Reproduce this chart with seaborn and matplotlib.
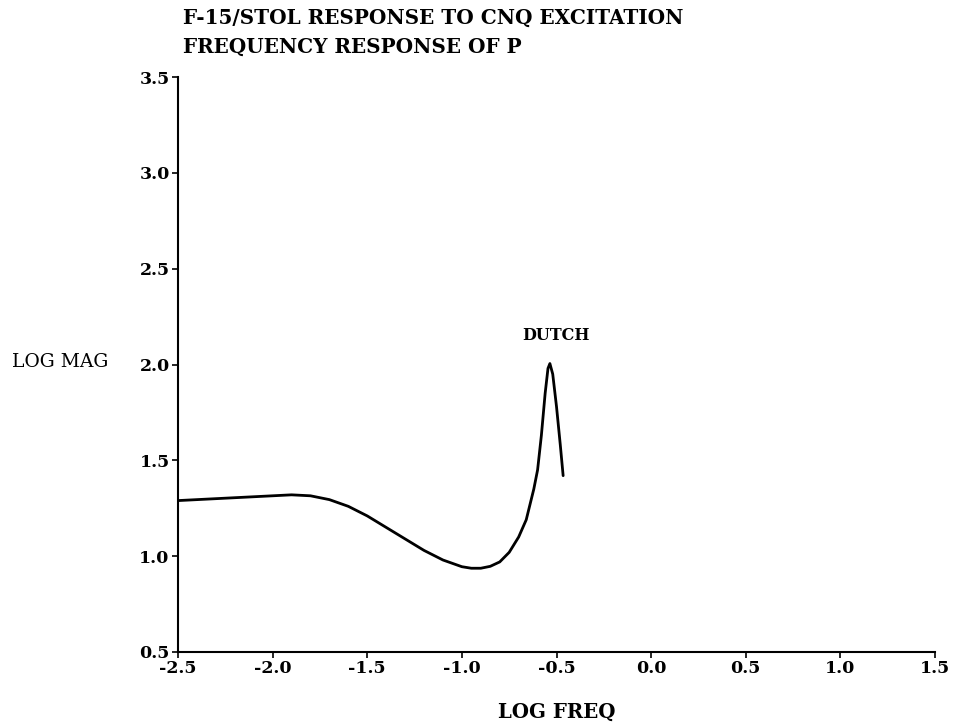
import matplotlib
matplotlib.use("Agg")
import matplotlib.pyplot as plt
import seaborn as sns
import pandas as pd

title_lines = ["F-15/STOL RESPONSE TO CNQ EXCITATION", "FREQUENCY RESPONSE OF P"]
x_label = "LOG FREQ"
y_label = "LOG MAG"
annotation = "DUTCH"

log_freq = [-2.5, -2.3, -2.1, -1.9, -1.8, -1.7, -1.6, -1.5, -1.4, -1.3, -1.2,
            -1.1, -1.0, -0.95, -0.9, -0.85, -0.8, -0.75, -0.7, -0.66, -0.62,
            -0.6, -0.58, -0.56, -0.545, -0.535, -0.52, -0.5, -0.48, -0.465]
log_mag = [1.29, 1.30, 1.31, 1.32, 1.315, 1.295, 1.26, 1.21, 1.15, 1.09, 1.03,
           0.98, 0.945, 0.937, 0.937, 0.947, 0.97, 1.02, 1.10, 1.19, 1.35,
           1.45, 1.63, 1.85, 1.98, 2.005, 1.95, 1.78, 1.58, 1.42]

x_ticks = [-2.5, -2.0, -1.5, -1.0, -0.5, 0.0, 0.5, 1.0, 1.5]
y_ticks = [0.5, 1.0, 1.5, 2.0, 2.5, 3.0, 3.5]

sns.set_style("ticks")
plt.rcParams['font.family'] = ['DejaVu Serif']
plt.rcParams['text.color'] = 'black'
plt.rcParams['xtick.color'] = 'black'
plt.rcParams['ytick.color'] = 'black'
plt.rcParams['axes.labelcolor'] = 'black'

df = pd.DataFrame({"x": log_freq, "y": log_mag})

fig = plt.figure(figsize=(9.61, 7.28), dpi=100)
ax = fig.add_axes([0.1852, 0.1044, 0.7878, 0.7898])
sns.lineplot(data=df, x="x", y="y", sort=False, color="black", linewidth=2.0, ax=ax)

ax.set_xlim(-2.5, 1.5)
ax.set_ylim(0.5, 3.5)
ax.set_xticks(x_ticks)
ax.set_yticks(y_ticks)
ax.set_xticklabels([f"{t:.1f}" for t in x_ticks], fontweight="bold", fontsize=12.5)
ax.set_yticklabels([f"{t:.1f}" for t in y_ticks], fontweight="bold", fontsize=12.5)
ax.tick_params(axis="both", direction="out", length=4, width=1.2, color="black", pad=2)
for s in ["top", "right"]:
    ax.spines[s].set_visible(False)
for s in ["left", "bottom"]:
    ax.spines[s].set_linewidth(1.5)
    ax.spines[s].set_color("black")

ax.set_xlabel(x_label, fontweight="bold", fontsize=14.2, labelpad=18)
ax.set_ylabel("")
fig.text(12 / 961, 1 - 362 / 728, y_label, fontsize=13.5, va="center", ha="left")

ax.text(-0.503, 2.15, annotation, fontweight="bold", fontsize=11.5, ha="center", va="center")

fig.text(183 / 961, 1 - 18 / 728, title_lines[0], fontweight="bold", fontsize=14.4, va="center", ha="left")
fig.text(183 / 961, 1 - 47 / 728, title_lines[1], fontweight="bold", fontsize=14.4, va="center", ha="left")

fig.savefig("out.png", dpi=100)
